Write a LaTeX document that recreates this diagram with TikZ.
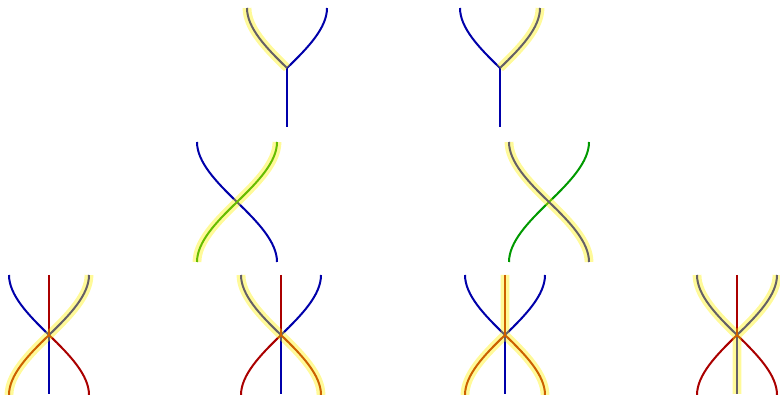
\documentclass[tikz,border=0pt]{standalone}
\usepackage{xcolor}
\usepackage{tikz}
\usetikzlibrary{calc}
\definecolor{strandblue}{RGB}{0,0,170}
\definecolor{strandred}{RGB}{170,0,0}
\definecolor{strandgreen}{RGB}{0,153,0}

\begin{document}
\begin{tikzpicture}[
    x=0.5pt, y=0.5pt,
    sblue/.style={strandblue, line width=1pt},
    sred/.style={strandred, line width=1pt},
    sgreen/.style={strandgreen, line width=1pt},
    glow/.style={yellow, opacity=0.4, line width=4.4pt},
    fromend/.style={out distance=10pt, in distance=14.5pt},
    toend/.style={out distance=14.5pt, in distance=10pt}
  ]
    \useasboundingbox (0,0) rectangle (780,395);
    % corner points of every crossing
    \foreach \n/\cx/\cy in {ya/287/327, yb/500/327, xa/237/193, xb/549/193,
                            ba/49/60, bb/281/60, bc/505/60, bd/737/60} {
      \coordinate (\n-c)  at (\cx,\cy);
      \coordinate (\n-tl) at (\cx-40,\cy+60);
      \coordinate (\n-tm) at (\cx,\cy+60);
      \coordinate (\n-tr) at (\cx+40,\cy+60);
      \coordinate (\n-bl) at (\cx-40,\cy-60);
      \coordinate (\n-bm) at (\cx,\cy-59);
      \coordinate (\n-br) at (\cx+40,\cy-60);
    }

    % top row
    \draw[sblue] (ya-tl) to[fromend,out=-90,in=136] (ya-c) to[toend,out=44,in=-90] (ya-tr);
    \draw[sblue] (ya-c) -- (ya-bm);
    \draw[glow] (ya-tl) to[fromend,out=-90,in=136] (ya-c);

    \draw[sblue] (yb-tl) to[fromend,out=-90,in=136] (yb-c) to[toend,out=44,in=-90] (yb-tr);
    \draw[sblue] (yb-c) -- (yb-bm);
    \draw[glow] (yb-tr) to[fromend,out=-90,in=44] (yb-c);

    % middle row
    \draw[sblue] (xa-tl) to[fromend,out=-90,in=136] (xa-c) to[toend,out=-44,in=90] (xa-br);
    \draw[sgreen] (xa-bl) to[fromend,out=90,in=-136] (xa-c) to[toend,out=44,in=-90] (xa-tr);
    \draw[glow] (xa-bl) to[fromend,out=90,in=-136] (xa-c) to[toend,out=44,in=-90] (xa-tr);

    \draw[sgreen] (xb-bl) to[fromend,out=90,in=-136] (xb-c) to[toend,out=44,in=-90] (xb-tr);
    \draw[sblue] (xb-tl) to[fromend,out=-90,in=136] (xb-c) to[toend,out=-44,in=90] (xb-br);
    \draw[glow] (xb-tl) to[fromend,out=-90,in=136] (xb-c) to[toend,out=-44,in=90] (xb-br);

    % bottom row
    \foreach \n in {ba, bb, bc, bd} {
      \draw[sblue] (\n-tl) to[fromend,out=-90,in=136] (\n-c) to[toend,out=44,in=-90] (\n-tr);
      \draw[sblue] (\n-c) -- (\n-bm);
      \draw[sred] (\n-bl) to[fromend,out=90,in=-136] (\n-c) to[toend,out=-44,in=90] (\n-br);
      \draw[sred] (\n-tm) -- (\n-c);
    }
    \draw[glow] (ba-bl) to[fromend,out=90,in=-136] (ba-c) to[toend,out=44,in=-90] (ba-tr);
    \draw[glow] (bb-tl) to[fromend,out=-90,in=136] (bb-c) to[toend,out=-44,in=90] (bb-br);
    \draw[glow] (bc-tm) -- (bc-c) to[toend,out=-136,in=90] (bc-bl)
                (bc-c) to[toend,out=-44,in=90] (bc-br);
    \draw[glow] (bd-tl) to[fromend,out=-90,in=136] (bd-c) to[toend,out=44,in=-90] (bd-tr)
                (bd-c) -- (bd-bm);
  \end{tikzpicture}
\end{document}
